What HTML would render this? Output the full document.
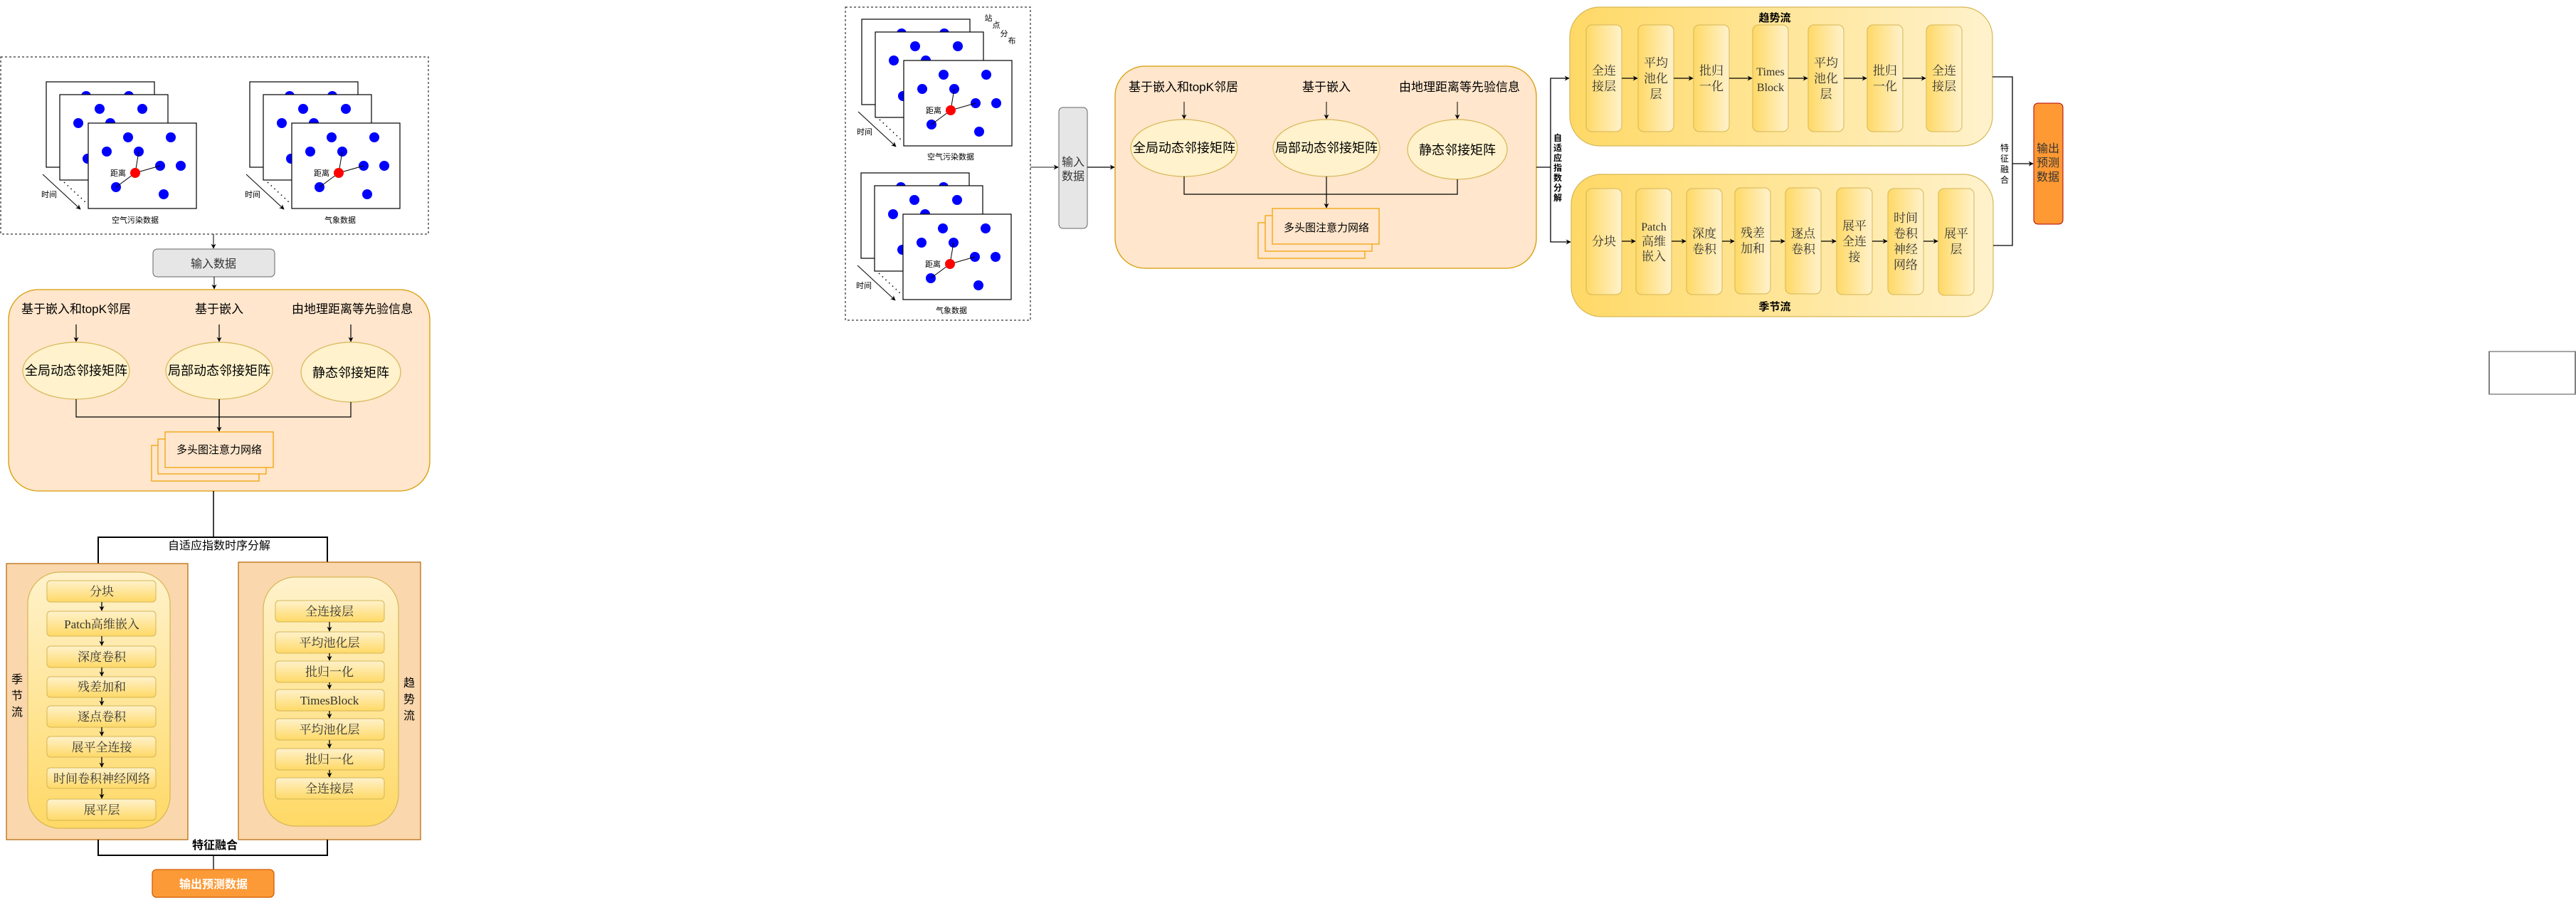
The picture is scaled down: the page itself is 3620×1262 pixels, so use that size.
<!DOCTYPE html>
<html><head><meta charset="utf-8">
<style>
html,body{margin:0;padding:0;background:#fff;}
svg{display:block;}
.s{font-family:"Liberation Sans","Noto Sans CJK SC",sans-serif;}
.f{font-family:"Liberation Serif","Noto Serif CJK SC",serif;}
</style></head><body>
<svg width="3620" height="1262" viewBox="0 0 3620 1262" xmlns="http://www.w3.org/2000/svg">
<defs>
<marker id="ar" viewBox="0 0 10 10" refX="9" refY="5" markerWidth="7" markerHeight="7" orient="auto-start-reverse" markerUnits="userSpaceOnUse">
<path d="M0,0 L10,5 L0,10 L3,5 Z" fill="#000"/></marker>
<linearGradient id="gv" x1="0" y1="0" x2="0" y2="1"><stop offset="0" stop-color="#fff2cc"/><stop offset="1" stop-color="#ffd966"/></linearGradient>
<linearGradient id="gh" x1="0" y1="0" x2="1" y2="0"><stop offset="0" stop-color="#ffd966"/><stop offset="1" stop-color="#fff2cc"/></linearGradient>
<g id="dots">
<circle cx="56" cy="20" r="7"/><circle cx="116" cy="20" r="7"/><circle cx="26" cy="40" r="7"/><circle cx="71" cy="40" r="7"/>
<circle cx="101" cy="60" r="7"/><circle cx="130" cy="60" r="7"/><circle cx="39" cy="90" r="7"/><circle cx="106" cy="100" r="7"/>
</g>
<g id="frames">
<rect x="0" y="0" width="152" height="120" fill="#fff" stroke="#000" stroke-width="1.2"/>
<use href="#dots" fill="#0000ff"/>
<rect x="19" y="18" width="152" height="120" fill="#fff" stroke="#000" stroke-width="1.2"/>
<use href="#dots" x="19" y="18" fill="#0000ff"/>
<rect x="59" y="58" width="152" height="120" fill="#fff" stroke="#000" stroke-width="1.2"/>
<use href="#dots" x="59" y="58" fill="#0000ff"/>
<g transform="translate(59,58)" stroke="#000" stroke-width="1">
<line x1="66" y1="70" x2="71" y2="40"/><line x1="66" y1="70" x2="101" y2="60"/><line x1="66" y1="70" x2="39" y2="90"/>
</g>
<circle cx="125" cy="128" r="7" fill="#ff0000"/>
<line x1="-5" y1="130" x2="48" y2="179" stroke="#000" stroke-width="1" marker-end="url(#ar)"/>
<line x1="25" y1="141" x2="56" y2="170" stroke="#000" stroke-width="1.5" stroke-dasharray="1.5 5"/>
</g>
</defs>

<!-- ================= LEFT DIAGRAM ================= -->
<rect x="1" y="80" width="601" height="249" fill="none" stroke="#000" stroke-dasharray="3 3"/>
<use href="#frames" x="65" y="115"/>
<use href="#frames" x="351" y="115"/>
<g class="s" font-size="11" fill="#000" text-anchor="middle">
<text x="166" y="247">距离</text><text x="452" y="247">距离</text>
<text x="69" y="277">时间</text><text x="355" y="277">时间</text>
<text x="190" y="313">空气污染数据</text><text x="478" y="313">气象数据</text>
</g>
<line x1="300" y1="329" x2="300" y2="349" stroke="#000" marker-end="url(#ar)"/>
<rect x="215" y="350" width="171" height="39" rx="6" fill="#e6e6e6" stroke="#666"/>
<text class="s" x="300" y="376" font-size="16" fill="#333" text-anchor="middle">输入数据</text>
<line x1="301" y1="389" x2="301" y2="406" stroke="#000" marker-end="url(#ar)"/>
<rect x="12" y="407" width="592" height="283" rx="42" fill="#ffe6cc" stroke="#d79b00" stroke-width="1.3"/>
<g class="s" font-size="17" fill="#000" text-anchor="middle">
<text x="107" y="440">基于嵌入和topK邻居</text>
<text x="308" y="440">基于嵌入</text>
<text x="495" y="440">由地理距离等先验信息</text>
</g>
<g stroke="#000" stroke-width="1.2">
<line x1="107" y1="456" x2="107" y2="480" marker-end="url(#ar)"/>
<line x1="308" y1="456" x2="308" y2="480" marker-end="url(#ar)"/>
<line x1="493" y1="456" x2="493" y2="480" marker-end="url(#ar)"/>
</g>
<g fill="#fff2cc" stroke="#d6b656" stroke-width="1.2">
<ellipse cx="107" cy="521" rx="75" ry="40"/><ellipse cx="308" cy="521" rx="75" ry="40"/><ellipse cx="493" cy="523" rx="70" ry="42"/>
</g>
<g class="s" font-size="18" fill="#000" text-anchor="middle">
<text x="107" y="527">全局动态邻接矩阵</text><text x="308" y="527">局部动态邻接矩阵</text><text x="493" y="530">静态邻接矩阵</text>
</g>
<polyline points="107,561 107,586 493,586 493,565" fill="none" stroke="#000" stroke-width="1.2"/>
<line x1="308" y1="561" x2="308" y2="606" stroke="#000" stroke-width="1.5" marker-end="url(#ar)"/>
<g fill="#ffe6cc" stroke="#f0a30a" stroke-width="1.3">
<rect x="213" y="626" width="151" height="50"/><rect x="222" y="617" width="152" height="49"/><rect x="232" y="607" width="152" height="50"/>
</g>
<text class="s" x="308" y="637" font-size="15" fill="#000" text-anchor="middle">多头图注意力网络</text>

<line x1="300" y1="690" x2="300" y2="755" stroke="#000" stroke-width="1.5"/>
<polyline points="138,792 138,755 460,755 460,790" fill="none" stroke="#000" stroke-width="2"/>
<text class="s" x="308" y="772" font-size="16" fill="#000" text-anchor="middle">自适应指数时序分解</text>

<rect x="9" y="792" width="255" height="388" fill="#fad7ac" stroke="#b46504" stroke-width="1.2"/>
<rect x="39" y="804" width="200" height="360" rx="45" fill="url(#gv)" stroke="#d6b656" stroke-width="1.2"/>
<g class="s" font-size="16" fill="#000" text-anchor="middle"><text x="24" y="960">季</text><text x="24" y="983">节</text><text x="24" y="1006">流</text></g>
<g fill="url(#gv)" stroke="#d6b656" stroke-width="1">
<rect x="66" y="816" width="153" height="30" rx="5"/><rect x="66" y="859" width="153" height="35" rx="5"/>
<rect x="66" y="908" width="153" height="30" rx="5"/><rect x="66" y="951" width="153" height="29" rx="5"/>
<rect x="66" y="992" width="153" height="30" rx="5"/><rect x="66" y="1035" width="153" height="29" rx="5"/>
<rect x="66" y="1079" width="153" height="29" rx="5"/><rect x="66" y="1123" width="153" height="30" rx="5"/>
</g>
<g stroke="#000" stroke-width="1.3">
<line x1="143" y1="846" x2="143" y2="858" marker-end="url(#ar)"/><line x1="143" y1="894" x2="143" y2="907" marker-end="url(#ar)"/>
<line x1="143" y1="938" x2="143" y2="950" marker-end="url(#ar)"/><line x1="143" y1="980" x2="143" y2="991" marker-end="url(#ar)"/>
<line x1="143" y1="1022" x2="143" y2="1034" marker-end="url(#ar)"/><line x1="143" y1="1064" x2="143" y2="1078" marker-end="url(#ar)"/>
<line x1="143" y1="1108" x2="143" y2="1122" marker-end="url(#ar)"/>
</g>
<g class="f" font-size="17" fill="#333" text-anchor="middle">
<text x="143" y="837">分块</text><text x="143" y="883">Patch高维嵌入</text><text x="143" y="929">深度卷积</text>
<text x="143" y="971">残差加和</text><text x="143" y="1013">逐点卷积</text><text x="143" y="1056">展平全连接</text>
<text x="143" y="1100">时间卷积神经网络</text><text x="143" y="1144">展平层</text>
</g>

<rect x="335" y="790" width="256" height="390" fill="#fad7ac" stroke="#b46504" stroke-width="1.2"/>
<rect x="370" y="811" width="190" height="350" rx="45" fill="url(#gv)" stroke="#d6b656" stroke-width="1.2"/>
<g class="s" font-size="16" fill="#000" text-anchor="middle"><text x="575" y="965">趋</text><text x="575" y="988">势</text><text x="575" y="1011">流</text></g>
<g fill="url(#gv)" stroke="#d6b656" stroke-width="1">
<rect x="387" y="844" width="153" height="30" rx="5"/><rect x="387" y="888" width="153" height="30" rx="5"/>
<rect x="387" y="929" width="153" height="30" rx="5"/><rect x="387" y="969" width="153" height="30" rx="5"/>
<rect x="387" y="1010" width="153" height="30" rx="5"/><rect x="387" y="1052" width="153" height="30" rx="5"/>
<rect x="387" y="1093" width="153" height="30" rx="5"/>
</g>
<g stroke="#000" stroke-width="1.3">
<line x1="463" y1="874" x2="463" y2="887" marker-end="url(#ar)"/><line x1="463" y1="918" x2="463" y2="928" marker-end="url(#ar)"/>
<line x1="463" y1="959" x2="463" y2="968" marker-end="url(#ar)"/><line x1="463" y1="999" x2="463" y2="1009" marker-end="url(#ar)"/>
<line x1="463" y1="1040" x2="463" y2="1051" marker-end="url(#ar)"/><line x1="463" y1="1082" x2="463" y2="1092" marker-end="url(#ar)"/>
</g>
<g class="f" font-size="17" fill="#333" text-anchor="middle">
<text x="463" y="865">全连接层</text><text x="463" y="909">平均池化层</text><text x="463" y="950">批归一化</text>
<text x="463" y="990">TimesBlock</text><text x="463" y="1031">平均池化层</text>
<text x="463" y="1073">批归一化</text><text x="463" y="1114">全连接层</text>
</g>

<polyline points="138,1180 138,1202 460,1202 460,1180" fill="none" stroke="#000" stroke-width="2"/>
<line x1="300" y1="1202" x2="300" y2="1222" stroke="#000" stroke-width="1.3"/>
<text class="s" x="302" y="1193" font-size="16" fill="#000" text-anchor="middle" font-weight="bold">特征融合</text>
<rect x="214" y="1222" width="171" height="39" rx="6" fill="#fd9a38" stroke="#d05e00" stroke-width="1.3"/>
<text class="s" x="300" y="1248" font-size="16" fill="#fff" font-weight="bold" text-anchor="middle">输出预测数据</text>

<!-- ================= RIGHT DIAGRAM ================= -->
<rect x="1188" y="10" width="260" height="440" fill="none" stroke="#000" stroke-dasharray="3 3"/>
<use href="#frames" x="1211" y="27"/>
<use href="#frames" x="1210" y="243"/>
<g class="s" font-size="11" fill="#000" text-anchor="middle">
<text x="1312" y="159">距离</text><text x="1311" y="375">距离</text>
<text x="1215" y="189">时间</text><text x="1214" y="405">时间</text>
<text x="1336" y="224">空气污染数据</text><text x="1337" y="440">气象数据</text>
<text x="1389" y="29">站</text><text x="1400" y="39">点</text><text x="1411" y="51">分</text><text x="1422" y="61">布</text>
</g>
<line x1="1448" y1="235" x2="1487" y2="235" stroke="#666" stroke-width="1.5" marker-end="url(#ar)"/>
<rect x="1488" y="151" width="40" height="170" rx="6" fill="#e6e6e6" stroke="#666"/>
<text class="s" x="1508" y="233" font-size="16" fill="#333" text-anchor="middle">输入</text>
<text class="s" x="1508" y="253" font-size="16" fill="#333" text-anchor="middle">数据</text>
<line x1="1528" y1="235" x2="1566" y2="235" stroke="#000" stroke-width="1.3" marker-end="url(#ar)"/>
<rect x="1567" y="93" width="592" height="284" rx="42" fill="#ffe6cc" stroke="#d79b00" stroke-width="1.3"/>
<g class="s" font-size="17" fill="#000" text-anchor="middle">
<text x="1663" y="128">基于嵌入和topK邻居</text><text x="1864" y="128">基于嵌入</text><text x="2051" y="128">由地理距离等先验信息</text>
</g>
<g stroke="#000" stroke-width="1">
<line x1="1664" y1="143" x2="1664" y2="167" marker-end="url(#ar)"/>
<line x1="1864" y1="143" x2="1864" y2="167" marker-end="url(#ar)"/>
<line x1="2048" y1="143" x2="2048" y2="167" marker-end="url(#ar)"/>
</g>
<g fill="#fff2cc" stroke="#d6b656" stroke-width="1.2">
<ellipse cx="1664" cy="208" rx="75" ry="40"/><ellipse cx="1864" cy="208" rx="75" ry="40"/><ellipse cx="2048" cy="210" rx="70" ry="42"/>
</g>
<g class="s" font-size="18" fill="#000" text-anchor="middle">
<text x="1664" y="214">全局动态邻接矩阵</text><text x="1864" y="214">局部动态邻接矩阵</text><text x="2048" y="217">静态邻接矩阵</text>
</g>
<polyline points="1664,248 1664,273 2048,273 2048,252" fill="none" stroke="#000" stroke-width="1.2"/>
<line x1="1864" y1="248" x2="1864" y2="292" stroke="#000" stroke-width="1.2" marker-end="url(#ar)"/>
<g fill="#ffe6cc" stroke="#f0a30a" stroke-width="1.3">
<rect x="1768" y="313" width="150" height="50"/><rect x="1778" y="303" width="150" height="50"/><rect x="1788" y="293" width="150" height="50"/>
</g>
<text class="s" x="1864" y="325" font-size="15" fill="#000" text-anchor="middle">多头图注意力网络</text>

<polyline points="2159,235 2179,235" fill="none" stroke="#000" stroke-width="1.3"/>
<polyline points="2205,110 2179,110 2179,340 2207,340" fill="none" stroke="#000" stroke-width="1.3"/>
<line x1="2195" y1="110" x2="2205" y2="110" stroke="#000" marker-end="url(#ar)"/>
<line x1="2197" y1="340" x2="2207" y2="340" stroke="#000" marker-end="url(#ar)"/>
<g class="s" font-size="12" fill="#000" font-weight="bold" text-anchor="middle">
<text x="2189" y="198">自</text><text x="2189" y="212">适</text><text x="2189" y="226">应</text><text x="2189" y="240">指</text><text x="2189" y="254">数</text><text x="2189" y="268">分</text><text x="2189" y="282">解</text>
</g>

<rect x="2206" y="10" width="594" height="195" rx="42" fill="url(#gh)" stroke="#d6b656" stroke-width="1.2"/>
<text class="s" x="2494" y="30" font-size="15" font-weight="bold" fill="#000" text-anchor="middle">趋势流</text>
<g fill="url(#gh)" stroke="#d6b656" stroke-width="1">
<rect x="2229" y="35" width="50" height="150" rx="8"/><rect x="2302" y="35" width="50" height="150" rx="8"/>
<rect x="2380" y="35" width="50" height="150" rx="8"/><rect x="2463" y="35" width="50" height="150" rx="8"/>
<rect x="2541" y="35" width="50" height="150" rx="8"/><rect x="2624" y="35" width="50" height="150" rx="8"/>
<rect x="2707" y="35" width="50" height="150" rx="8"/>
</g>
<g stroke="#000" stroke-width="1.3">
<line x1="2279" y1="110" x2="2301" y2="110" marker-end="url(#ar)"/><line x1="2352" y1="110" x2="2379" y2="110" marker-end="url(#ar)"/>
<line x1="2430" y1="110" x2="2462" y2="110" marker-end="url(#ar)"/><line x1="2513" y1="110" x2="2540" y2="110" marker-end="url(#ar)"/>
<line x1="2591" y1="110" x2="2623" y2="110" marker-end="url(#ar)"/><line x1="2674" y1="110" x2="2706" y2="110" marker-end="url(#ar)"/>
</g>
<g class="f" font-size="17" fill="#333" text-anchor="middle">
<text x="2254" y="105">全连</text><text x="2254" y="127">接层</text>
<text x="2327" y="94">平均</text><text x="2327" y="116">池化</text><text x="2327" y="138">层</text>
<text x="2405" y="105">批归</text><text x="2405" y="127">一化</text>
<text x="2488" y="106" font-size="16">Times</text><text x="2488" y="128" font-size="16">Block</text>
<text x="2566" y="94">平均</text><text x="2566" y="116">池化</text><text x="2566" y="138">层</text>
<text x="2649" y="105">批归</text><text x="2649" y="127">一化</text>
<text x="2732" y="105">全连</text><text x="2732" y="127">接层</text>
</g>

<rect x="2208" y="245" width="593" height="200" rx="42" fill="url(#gh)" stroke="#d6b656" stroke-width="1.2"/>
<text class="s" x="2494" y="436" font-size="15" font-weight="bold" fill="#000" text-anchor="middle">季节流</text>
<g fill="url(#gh)" stroke="#d6b656" stroke-width="1">
<rect x="2229" y="265" width="50" height="149" rx="8"/><rect x="2299" y="265" width="50" height="149" rx="8"/>
<rect x="2370" y="265" width="50" height="149" rx="8"/><rect x="2438" y="264" width="50" height="149" rx="8"/>
<rect x="2509" y="264" width="50" height="149" rx="8"/><rect x="2581" y="264" width="50" height="150" rx="8"/>
<rect x="2653" y="265" width="50" height="149" rx="8"/><rect x="2724" y="265" width="50" height="150" rx="8"/>
</g>
<g stroke="#000" stroke-width="1.3">
<line x1="2279" y1="339" x2="2298" y2="339" marker-end="url(#ar)"/><line x1="2349" y1="339" x2="2369" y2="339" marker-end="url(#ar)"/>
<line x1="2420" y1="339" x2="2437" y2="339" marker-end="url(#ar)"/><line x1="2488" y1="339" x2="2508" y2="339" marker-end="url(#ar)"/>
<line x1="2559" y1="339" x2="2580" y2="339" marker-end="url(#ar)"/><line x1="2631" y1="339" x2="2652" y2="339" marker-end="url(#ar)"/>
<line x1="2703" y1="339" x2="2723" y2="339" marker-end="url(#ar)"/>
</g>
<g class="f" font-size="17" fill="#333" text-anchor="middle">
<text x="2254" y="345">分块</text>
<text x="2324" y="324" font-size="16">Patch</text><text x="2324" y="345">高维</text><text x="2324" y="366">嵌入</text>
<text x="2395" y="334">深度</text><text x="2395" y="356">卷积</text>
<text x="2463" y="333">残差</text><text x="2463" y="355">加和</text>
<text x="2534" y="334">逐点</text><text x="2534" y="356">卷积</text>
<text x="2606" y="323">展平</text><text x="2606" y="345">全连</text><text x="2606" y="367">接</text>
<text x="2678" y="312">时间</text><text x="2678" y="334">卷积</text><text x="2678" y="356">神经</text><text x="2678" y="378">网络</text>
<text x="2749" y="334">展平</text><text x="2749" y="356">层</text>
</g>

<polyline points="2800,108 2828,108 2828,345 2801,345" fill="none" stroke="#000" stroke-width="1.3"/>
<line x1="2828" y1="230" x2="2857" y2="230" stroke="#000" stroke-width="1.3" marker-end="url(#ar)"/>
<g class="s" font-size="12" fill="#000" text-anchor="middle">
<text x="2817" y="212">特</text><text x="2817" y="227">征</text><text x="2817" y="242">融</text><text x="2817" y="257">合</text>
</g>
<rect x="2858" y="145" width="41" height="170" rx="6" fill="#ff9933" stroke="#b20000" stroke-width="1"/>
<g class="s" font-size="16" fill="#333" text-anchor="middle">
<text x="2878" y="214">输出</text><text x="2878" y="234">预测</text><text x="2878" y="254">数据</text>
</g>

<rect x="3498" y="494" width="121" height="60" fill="#fff" stroke="#000" stroke-width="1"/>
<line x1="3498" y1="494" x2="3620" y2="494" stroke="#888" stroke-width="1.5"/>
<line x1="3498" y1="554" x2="3620" y2="554" stroke="#888" stroke-width="1.5"/>
</svg>
</body></html>
